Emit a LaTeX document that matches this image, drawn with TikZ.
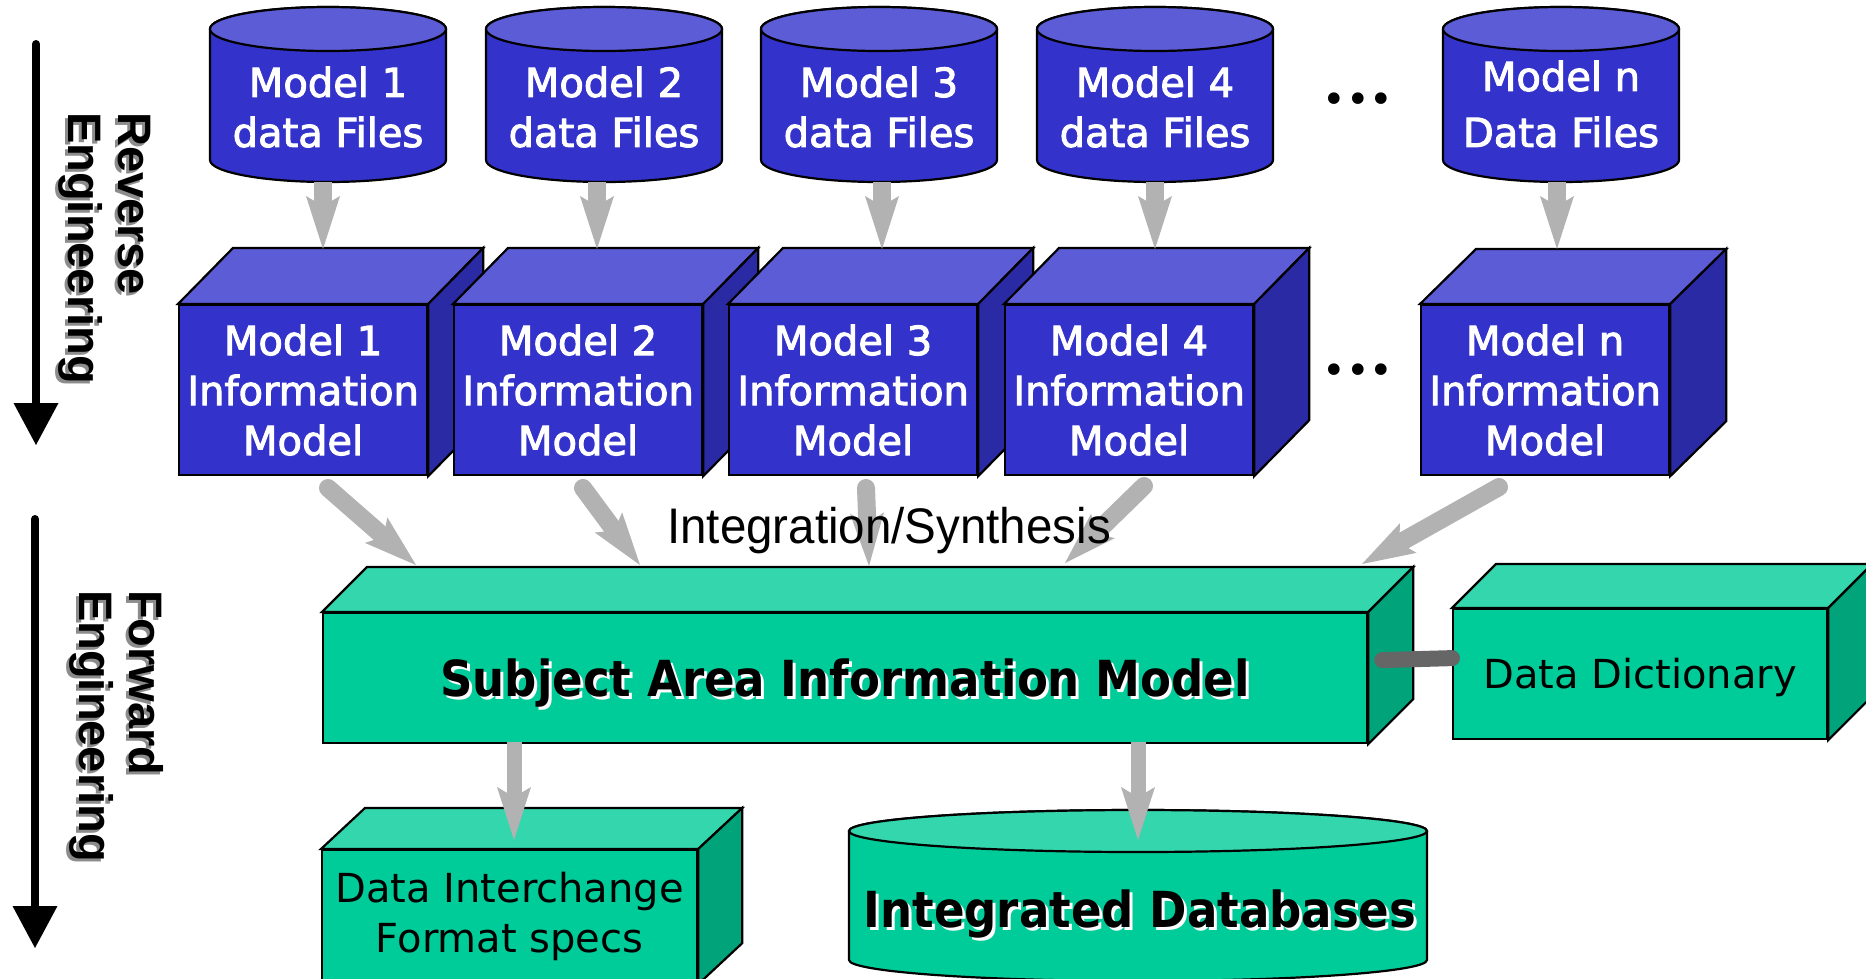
\documentclass[tikz,border=0pt]{standalone}
\usepackage{fontspec}
\setmainfont{DejaVu Sans}
\newfontfamily\boxfont[FakeBold=2.5]{DejaVu Sans}
\newfontfamily\arialfont{Liberation Sans}
\usepackage{graphicx}
\usetikzlibrary{arrows.meta}

\definecolor{bfront}{RGB}{51,51,204}
\definecolor{btop}{RGB}{92,92,214}
\definecolor{bside}{RGB}{42,42,165}
\definecolor{gfront}{RGB}{0,204,153}
\definecolor{gtop}{RGB}{51,214,173}
\definecolor{gside}{RGB}{0,163,122}
\definecolor{arrgray}{RGB}{178,178,178}
\definecolor{linkgray}{RGB}{102,102,102}
\definecolor{shgray}{RGB}{140,140,140}

\newcommand{\shadowed}[2]{\leavevmode\rlap{\kern3pt\raisebox{-3pt}{\textcolor{#1}{#2}}}#2}

% node, dx, dy, top fill, side fill
\newcommand{\drawfaces}[5]{%
  \path[face, fill=#4] (#1.north west) -- ++(#2,#3) -- ([shift={(#2,#3)}]#1.north east) -- (#1.north east) -- cycle;
  \path[face, fill=#5] (#1.north east) -- ++(#2,#3) -- ([shift={(#2,#3)}]#1.south east) -- (#1.south east) -- cycle;
}
% cx, ytop, ybot, rx, ry, body fill, top fill
\newcommand{\drawcyl}[7]{%
  \path[face, fill=#6] ({#1-#4},#2) -- ({#1-#4},#3) arc[start angle=180, end angle=360, x radius=#4pt, y radius=#5pt] -- ({#1+#4},#2) arc[start angle=0, end angle=180, x radius=#4pt, y radius=#5pt] -- cycle;
  \path[face, fill=#7] (#1,#2) ellipse[x radius=#4pt, y radius=#5pt];
}

\begin{document}
\begin{tikzpicture}[x=1pt, y=-1pt,
  face/.style={draw=black, line width=2.2pt},
  bfrontbox/.style={face, fill=bfront, text=white, font=\boxfont\fontsize{40}{50}\selectfont, align=center, inner sep=0pt, anchor=north west, minimum width=248pt, minimum height=170pt},
  gfrontbox/.style={face, fill=gfront, text=black, inner sep=0pt, anchor=north west},
  cyltext/.style={text=white, font=\boxfont\fontsize{40}{50}\selectfont, align=center, inner sep=0pt},
  bigtext/.style={font=\bfseries\fontsize{46}{46}\selectfont, inner sep=0pt},
  sidelabel/.style={rotate=-90, anchor=base west, inner sep=0pt, font=\arialfont\bfseries\fontsize{47}{47}\selectfont},
  graytip/.style={-{Stealth[length=53pt 0 0, width=34pt 0 0, inset=10pt 0, line width=0pt 0 0]}},
  toparrow/.style={graytip, draw=arrgray, line width=18pt},
  midarrow/.style={graytip, draw=arrgray, line width=18pt, line cap=round},
  lowarrow/.style={graytip, draw=arrgray, line width=15pt},
  bigarrow/.style={draw=black, line width=8pt, line cap=round, -{Triangle[length=42pt 0 0, width=45pt 0 0, line width=0pt 0 0]}},
  link/.style={draw=linkgray, line width=16pt, line cap=round},
  dotsrow/.style={font=\fontsize{40}{40}\selectfont, anchor=base, inner sep=0pt}
]
\useasboundingbox (0,0) rectangle (1866,978);
\fill[white] (0,0) rectangle (1866,978);
\clip (0,0) rectangle (1866,978);

% ---------- top cylinders ----------
\drawcyl{328}{29}{160}{118}{22}{bfront}{btop}
\drawcyl{604}{29}{160}{118}{22}{bfront}{btop}
\drawcyl{879}{29}{160}{118}{22}{bfront}{btop}
\drawcyl{1155}{29}{160}{118}{22}{bfront}{btop}
\drawcyl{1561}{29}{160}{118}{22}{bfront}{btop}
\node[cyltext] (c1) at (328,107) {Model 1\\data Files};
\node[cyltext] (c2) at (604,107) {Model 2\\data Files};
\node[cyltext] (c3) at (879,107) {Model 3\\data Files};
\node[cyltext] (c4) at (1155,107) {Model 4\\data Files};
\node[cyltext, font=\boxfont\fontsize{40}{56}\selectfont] (cn) at (1561,104) {Model n\\Data Files};

% ---------- information model boxes ----------
\node[bfrontbox] (b1) at (178,304) {Model 1\\Information\\Model};
\drawfaces{b1}{55}{-56}{btop}{bside}
\node[bfrontbox] (b2) at (453,304) {Model 2\\Information\\Model};
\drawfaces{b2}{55}{-56}{btop}{bside}
\node[bfrontbox] (b3) at (728,304) {Model 3\\Information\\Model};
\drawfaces{b3}{55}{-56}{btop}{bside}
\node[bfrontbox] (b4) at (1004,304) {Model 4\\Information\\Model};
\drawfaces{b4}{55}{-56}{btop}{bside}
\node[bfrontbox] (bn) at (1420,304) {Model n\\Information\\Model};
\drawfaces{bn}{56}{-55}{btop}{bside}

\node[dotsrow] (dots1) at (1358,113) {•••};
\node[dotsrow] (dots2) at (1358,384) {•••};

% ---------- arrows cylinders -> boxes ----------
\coordinate (c1b) at (323,182); \coordinate (b1t) at (323,249);
\coordinate (c2b) at (597,182); \coordinate (b2t) at (597,249);
\coordinate (c3b) at (882,182); \coordinate (b3t) at (882,249);
\coordinate (c4b) at (1155,182); \coordinate (b4t) at (1155,249);
\coordinate (cnb) at (1557,182); \coordinate (bnt) at (1557,249);
\draw[toparrow] (c1b) -- (b1t);
\draw[toparrow] (c2b) -- (b2t);
\draw[toparrow] (c3b) -- (b3t);
\draw[toparrow] (c4b) -- (b4t);
\draw[toparrow] (cnb) -- (bnt);

% ---------- green boxes ----------
\node[gfrontbox, minimum width=1044pt, minimum height=130pt, bigtext, text height=37pt, text depth=0pt] (sa) at (322,612) {\shadowed{white}{\scalebox{0.98}[1.08]{Subject Area Information Model}}};
\drawfaces{sa}{45}{-45}{gtop}{gside}
\node[gfrontbox, minimum width=374pt, minimum height=130pt, font=\fontsize{40}{40}\selectfont, text height=29pt, text depth=0pt] (dd) at (1452,608) {Data Dictionary};
\drawfaces{dd}{44}{-44}{gtop}{gside}
\node[gfrontbox, minimum width=375pt, minimum height=133pt, align=center, font=\fontsize{40}{50}\selectfont] (di) at (321,849) {Data Interchange\\Format specs};
\drawfaces{di}{44}{-41}{gtop}{gside}
\drawcyl{1138}{831}{960}{289}{21}{gfront}{gtop}
\node[bigtext, anchor=base] (idb) at (1140,927) {\shadowed{white}{\scalebox{0.98}[1.08]{Integrated Databases}}};

\draw[link] ([shift={(14,-18)}]sa.east) -- ([shift={(0,-16)}]dd.west);

% ---------- arrows boxes -> subject area ----------
\coordinate (b1o) at (328,488); \coordinate (sa1) at (416,565);
\coordinate (b2o) at (583,488); \coordinate (sa2) at (640,565);
\coordinate (b3o) at (866,488); \coordinate (sa3) at (869,566);
\coordinate (b4o) at (1144,486); \coordinate (sa4) at (1065,563);
\coordinate (bno) at (1499,487); \coordinate (san) at (1362,564);
\draw[midarrow] (b1o) -- (sa1);
\draw[midarrow] (b2o) -- (sa2);
\draw[midarrow] (b3o) -- (sa3);
\draw[midarrow] (b4o) -- (sa4);
\draw[midarrow] (bno) -- (san);

% ---------- arrows subject area -> outputs ----------
\coordinate (sad1) at (514,742); \coordinate (dit) at (514,840);
\coordinate (sad2) at (1138,742); \coordinate (idt) at (1138,840);
\draw[lowarrow] (sad1) -- (dit);
\draw[lowarrow] (sad2) -- (idt);

\node[anchor=base, inner sep=0pt, font=\arialfont\fontsize{50}{50}\selectfont] (integ) at (889,543) {\scalebox{0.95}[1]{Integration/Synthesis}};

% ---------- side arrows and labels ----------
\coordinate (revs) at (36,44); \coordinate (reve) at (36,445);
\coordinate (fwds) at (35,519); \coordinate (fwde) at (35,948);
\draw[bigarrow] (revs) -- (reve);
\draw[bigarrow] (fwds) -- (fwde);
\node[sidelabel] (rev) at (118,112) {\shadowed{shgray}{Reverse}};
\node[sidelabel] (reveng) at (68,112) {\shadowed{shgray}{Engineering}};
\node[sidelabel] (fwd) at (129,590) {\shadowed{shgray}{Forward}};
\node[sidelabel] (fwdeng) at (79,590) {\shadowed{shgray}{Engineering}};
\end{tikzpicture}
\end{document}
